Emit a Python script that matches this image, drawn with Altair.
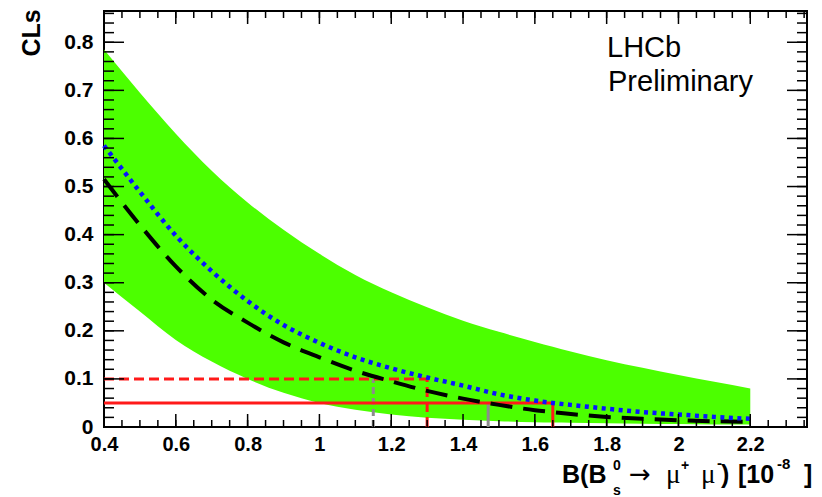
import altair as alt
import pandas as pd

# ---------------- data ----------------
x_grid = [0.4, 0.5, 0.6, 0.7, 0.8, 0.9, 1.0, 1.1, 1.2, 1.3, 1.4, 1.5, 1.6, 1.65, 1.7, 1.8, 1.9, 2.0, 2.1, 2.2]
band_upper = [0.785, 0.695, 0.610, 0.533, 0.467, 0.410, 0.360, 0.316, 0.280, 0.249, 0.221, 0.198, 0.177, 0.167, 0.157, 0.139, 0.123, 0.108, 0.094, 0.080]
band_lower = [0.300, 0.240, 0.181, 0.136, 0.100, 0.071, 0.050, 0.036, 0.026, 0.019, 0.015, 0.012, 0.010, 0.0095, 0.009, 0.008, 0.007, 0.006, 0.005, 0.005]
cls_observed = [0.585, 0.489, 0.398, 0.324, 0.262, 0.212, 0.175, 0.145, 0.122, 0.103, 0.086, 0.068, 0.055, 0.050, 0.046, 0.038, 0.031, 0.026, 0.021, 0.017]
cls_expected = [0.515, 0.420, 0.334, 0.265, 0.217, 0.176, 0.145, 0.117, 0.095, 0.075, 0.059, 0.046, 0.035, 0.031, 0.027, 0.021, 0.017, 0.014, 0.012, 0.011]

cl_levels = [0.05, 0.10]          # 95% and 90% CL
observed_limits = [1.65, 1.30]
expected_limits = [1.47, 1.15]

x_major = [0.4, 0.6, 0.8, 1.0, 1.2, 1.4, 1.6, 1.8, 2.0, 2.2]
y_major = [0.0, 0.1, 0.2, 0.3, 0.4, 0.5, 0.6, 0.7, 0.8]
x_minor = [round(0.4 + 0.05 * i, 2) for i in range(40)]
y_minor = [round(0.02 * i, 2) for i in range(44)]

# ---------------- layout ----------------
LEFT, TOP, RIGHT, BOTTOM = 104, 11, 807, 427
W, H = RIGHT - LEFT, BOTTOM - TOP
GREEN = "#4cff00"
FONT = "Liberation Sans"

xscale = alt.Scale(domain=[0.4, 2.358], nice=False, zero=False)
yscale = alt.Scale(domain=[0, 0.865], nice=False, zero=False)
xaxis = alt.Axis(values=x_major, format=".1~f", title=None, grid=False, domain=False,
                 ticks=False, labelFont=FONT, labelFontWeight="bold", labelFontSize=20,
                 labelColor="black", labelPadding=7, labelFlush=False)
yaxis = alt.Axis(values=y_major, format=".1~f", title=None, grid=False, domain=False,
                 ticks=False, labelFont=FONT, labelFontWeight="bold", labelFontSize=21,
                 labelColor="black", labelPadding=11)


def X(field):
    return alt.X(field, type="quantitative", scale=xscale, axis=xaxis, title=None)


def Y(field):
    return alt.Y(field, type="quantitative", scale=yscale, axis=yaxis, title=None)


curves = pd.DataFrame({"x": x_grid, "up": band_upper, "lo": band_lower,
                       "obs": cls_observed, "exp": cls_expected})

band = alt.Chart(curves).mark_area(color=GREEN, opacity=1, interpolate="monotone").encode(
    x=X("x"), y=Y("up"), y2=alt.Y2("lo"))

lim = pd.DataFrame({"cl": cl_levels, "obs": observed_limits, "exp": expected_limits,
                    "x0": [0.4, 0.4], "y0": [0.0, 0.0]})
lim95 = lim.iloc[[0]]
lim90 = lim.iloc[[1]]

grey90 = alt.Chart(lim90).mark_rule(color="#8c8c8c", strokeWidth=3, strokeDash=[7, 4]).encode(
    x=X("exp"), y=Y("y0"), y2=alt.Y2("cl"))
grey95 = alt.Chart(lim95).mark_rule(color="#8c8c8c", strokeWidth=3).encode(
    x=X("exp"), y=Y("y0"), y2=alt.Y2("cl"))

red95_h = alt.Chart(lim95).mark_rule(color="#ff1a1a", strokeWidth=3).encode(
    x=X("x0"), x2=alt.X2("obs"), y=Y("cl"))
red95_v = alt.Chart(lim95).mark_rule(color="#ff1a1a", strokeWidth=3).encode(
    x=X("obs"), y=Y("y0"), y2=alt.Y2("cl"))
red90_h = alt.Chart(lim90).mark_rule(color="#ff1a1a", strokeWidth=3, strokeDash=[10, 5]).encode(
    x=X("x0"), x2=alt.X2("obs"), y=Y("cl"))
red90_v = alt.Chart(lim90).mark_rule(color="#ff1a1a", strokeWidth=3, strokeDash=[10, 5]).encode(
    x=X("obs"), y=Y("y0"), y2=alt.Y2("cl"))

expected = alt.Chart(curves).mark_line(color="black", strokeWidth=4, strokeDash=[22, 11],
                                       interpolate="monotone").encode(x=X("x"), y=Y("exp"))
observed = alt.Chart(curves).mark_line(color="#0a14ff", strokeWidth=4.5, strokeDash=[4, 4.5],
                                       interpolate="monotone").encode(x=X("x"), y=Y("obs"))


# inward ticks (ROOT style)
def xticks(vals, length):
    d = pd.DataFrame({"v": vals})
    bottom = alt.Chart(d).mark_rule(color="black", strokeWidth=1.5).encode(
        x=X("v"), y=alt.value(H), y2=alt.value(H - length))
    top = alt.Chart(d).mark_rule(color="black", strokeWidth=1.5).encode(
        x=X("v"), y=alt.value(0), y2=alt.value(length))
    return [bottom, top]


def yticks(vals, length):
    d = pd.DataFrame({"v": vals})
    left = alt.Chart(d).mark_rule(color="black", strokeWidth=1.5).encode(
        y=Y("v"), x=alt.value(0), x2=alt.value(length))
    right = alt.Chart(d).mark_rule(color="black", strokeWidth=1.5).encode(
        y=Y("v"), x=alt.value(W), x2=alt.value(W - length))
    return [left, right]


def label(txt, x, y, size, bold=True, font=FONT, align="left", baseline="alphabetic", angle=0):
    return alt.Chart(pd.DataFrame({"t": [txt]})).mark_text(
        align=align, baseline=baseline, font=font, fontSize=size,
        fontWeight="bold" if bold else "normal", angle=angle, color="black").encode(
        text="t:N", x=alt.value(x - LEFT), y=alt.value(y - TOP))


texts = [
    label("CLs", 32, 33, 25, align="center", baseline="middle", angle=270),
    label("LHCb", 607, 57, 29, bold=False),
    label("Preliminary", 608, 91, 29, bold=False),
    label("B(B", 562, 483, 25),
    label("0", 613, 470, 14),
    label("s", 613, 495, 14),
    label("\u2192", 629, 483, 26, bold=False, font="DejaVu Sans"),
    label("\u03bc", 666, 483, 27, bold=False, font="Liberation Serif"),
    label("+", 681, 470, 14),
    label("\u03bc", 701, 483, 27, bold=False, font="Liberation Serif"),
    label("-", 717, 468, 15),
    label(")", 721, 483, 25),
    label("[10", 738, 483, 25),
    label("-8", 777, 469, 15),
    label("]", 804, 483, 25),
]

layers = ([band, grey90, grey95, red95_h, red95_v, red90_h, red90_v, expected, observed]
          + xticks(x_minor, 7) + xticks(x_major, 13)
          + yticks(y_minor, 10) + yticks(y_major, 20) + texts)

chart = alt.layer(*layers).properties(
    width=W, height=H,
    autosize=alt.AutoSizeParams(type="none"),
    padding={"left": LEFT, "top": TOP, "right": 822 - RIGHT, "bottom": 497 - BOTTOM},
    background="white",
).configure_view(stroke="black", strokeWidth=2)

chart.save("out.html", embed_options={"renderer": "svg", "actions": False})
